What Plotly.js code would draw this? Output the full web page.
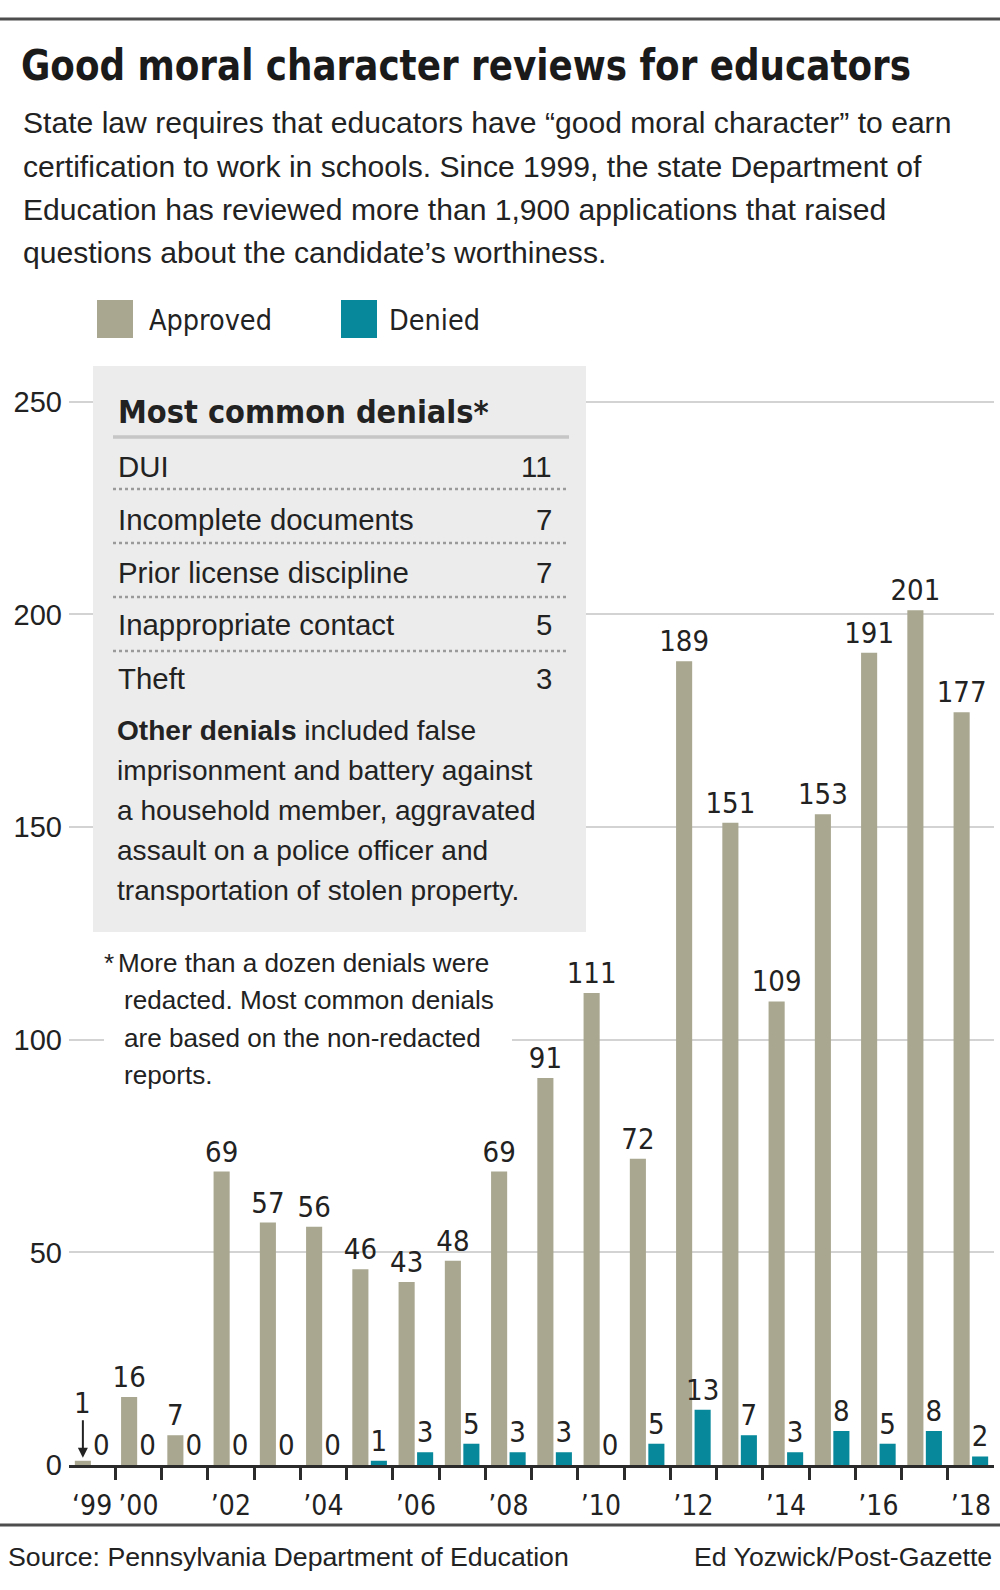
<!DOCTYPE html>
<html>
<head>
<meta charset="utf-8">
<script src="https://cdn.plot.ly/plotly-3.0.1.min.js"></script>
<style>
  html, body { margin: 0; padding: 0; background: #ffffff; }
  #chart { width: 1000px; height: 1590px; }
</style>
</head>
<body>
<div id="chart"></div>
<script>
// ---------------- DATA ----------------
const years    = [1999, 2000, 2001, 2002, 2003, 2004, 2005, 2006, 2007, 2008, 2009, 2010, 2011, 2012, 2013, 2014, 2015, 2016, 2017, 2018];
const approved = [1, 16, 7, 69, 57, 56, 46, 43, 48, 69, 91, 111, 72, 189, 151, 109, 153, 191, 201, 177];
const denied   = [0, 0, 0, 0, 0, 0, 1, 3, 5, 3, 3, 0, 5, 13, 7, 3, 8, 5, 8, 2];

const tickYears  = [1999, 2000, 2002, 2004, 2006, 2008, 2010, 2012, 2014, 2016, 2018];
const tickLabels = ['‘99', '’00', '’02', '’04', '’06', '’08', '’10', '’12', '’14', '’16', '’18'];
const yTicks     = [0, 50, 100, 150, 200, 250];

const denialReasons = ['DUI', 'Incomplete documents', 'Prior license discipline', 'Inappropriate contact', 'Theft'];
const denialCounts  = [11, 7, 7, 5, 3];

const titleText = 'Good moral character reviews for educators';
const subtitleLines = [
  'State law requires that educators have “good moral character” to earn',
  'certification to work in schools. Since 1999, the state Department of',
  'Education has reviewed more than 1,900 applications that raised',
  'questions about the candidate’s worthiness.'
];
const boxTitle = 'Most common denials*';
const otherLines = [
  '<b>Other denials</b> included false',
  'imprisonment and battery against',
  'a household member, aggravated',
  'assault on a police officer and',
  'transportation of stolen property.'
];
const footnoteLines = [
  'More than a dozen denials were',
  'redacted. Most common denials',
  'are based on the non-redacted',
  'reports.'
];
const sourceText = 'Source: Pennsylvania Department of Education';
const creditText = 'Ed Yozwick/Post-Gazette';

// ---------------- STYLE ----------------
const COL_APPROVED = '#a9a78f';
const COL_DENIED   = '#08899b';
const INK = '#222222';

const cv = document.createElement('canvas').getContext('2d');
function textW(t, fam, size, bold) { cv.font = (bold ? 'bold ' : '') + size + 'px ' + fam; return cv.measureText(t).width; }
function hasFont(name) {
  const t = 'mmmmmmmmmwwwwwlliiiWWW0123456789';
  for (const base of ['monospace', 'serif']) {
    if (Math.abs(textW(t, "'" + name + "', " + base, 72) - textW(t, base, 72)) > 0.5) return true;
  }
  return false;
}
const REG = "'Liberation Sans', Arial, Helvetica, sans-serif";
let NARROW = REG, hasNarrow = false;
if (hasFont('Liberation Sans Narrow')) { NARROW = "'Liberation Sans Narrow', 'Liberation Sans', sans-serif"; hasNarrow = true; }
else if (hasFont('DejaVu Sans Condensed')) { NARROW = "'DejaVu Sans Condensed', 'Liberation Sans', sans-serif"; hasNarrow = true; }
function fit(t, fam, bold, target) { return Math.round(1000 * target / textW(t.replace(/<[^>]+>/g, ''), fam, 100, bold)) / 10; }

// plot area in pixels
const W = 1000, H = 1590;
const PL = 69, PR = 994, PT = 380, PB = 1465;
const px2x = p => (p - PL) / (PR - PL);
const px2y = p => (PB - p) / (PB - PT);

const BARGAP = 0.2, BARGROUPGAP = 0.13;
const groupOffset = (1 - BARGAP) / 4;

// font sizes (fit to reference widths)
const TITLE_W    = 890;
const fsTitle    = Math.min(51, fit(titleText, NARROW, true, 955));
const fsSub      = fit(subtitleLines[0], REG, false, 930);
const fsLegend   = fit('Approved', NARROW, false, 123);
const fsBoxTitle = fit(boxTitle, NARROW, true, 371);
const fsRow      = fit(denialReasons[1], REG, false, 296);
const fsOther    = fit(otherLines[1], REG, false, 416);
const fsNote     = fit(footnoteLines[1], REG, false, 370);
const fsFoot     = fit(sourceText, REG, false, 560);
const fsData     = hasNarrow ? 29 : 26;
const fsXTick    = hasNarrow ? 28 : 25;

function label(text, xpx, basePx, size, fam, anchor, color) {
  return {
    text: text, xref: 'paper', yref: 'paper',
    x: px2x(xpx), y: px2y(basePx - 0.35 * size),
    xanchor: anchor || 'left', yanchor: 'middle',
    showarrow: false, borderpad: 0,
    font: { family: fam, size: size, color: color || INK }
  };
}
function rect(x0, y0, x1, y1, fill, layer) {
  return { type: 'rect', xref: 'paper', yref: 'paper', x0: px2x(x0), x1: px2x(x1), y0: px2y(y0), y1: px2y(y1),
           fillcolor: fill, line: { width: 0 }, layer: layer || 'above' };
}
function hline(x0, x1, y, color, width, dash) {
  return { type: 'line', xref: 'paper', yref: 'paper', x0: px2x(x0), x1: px2x(x1), y0: px2y(y), y1: px2y(y),
           line: { color: color, width: width, dash: dash || 'solid' }, layer: 'above' };
}

// ---------------- TRACES ----------------
const traces = [
  {
    type: 'bar', name: 'Approved', x: years, y: approved,
    marker: { color: COL_APPROVED, line: { width: 0 } },
    text: approved.map((v, i) => i === 0 ? '' : String(v)),
    textposition: 'outside', constraintext: 'none', cliponaxis: false,
    textfont: { family: NARROW, size: fsData, color: INK }
  },
  {
    type: 'bar', name: 'Denied', x: years, y: denied,
    marker: { color: COL_DENIED, line: { width: 0 } },
    text: denied.map(String),
    textposition: 'outside', constraintext: 'none', cliponaxis: false,
    textfont: { family: NARROW, size: fsData, color: INK }
  },
  { type: 'scatter', x: [], y: [], xaxis: 'x2', yaxis: 'y', showlegend: false, hoverinfo: 'skip' }
];

// ---------------- SHAPES ----------------
const shapes = [
  hline(0, W, 19, '#4d4d4d', 3),
  hline(0, W, 1525, '#4d4d4d', 3),
  rect(97, 300, 133, 338, COL_APPROVED),
  rect(341, 300, 377, 338, COL_DENIED),
  rect(93, 366, 586, 932, '#ececec'),
  hline(113, 569, 437, '#c6c6c6', 3.5),
  rect(104, 940, 512, 1095, '#ffffff')
];
const rowBase = [477, 530, 583, 635, 689];
const dotY = [489, 543, 597, 651];
dotY.forEach(y => shapes.push(hline(113, 568, y, '#9a9a9a', 2.5, 'dot')));

// ---------------- ANNOTATIONS ----------------
const annotations = [];
const subBase = [133, 177, 220, 263];
subtitleLines.forEach((t, i) => annotations.push(label(t, 22, subBase[i], fsSub, REG)));
annotations.push(label('Approved', 148, 330, fsLegend, NARROW));
annotations.push(label('Denied', 388, 330, fsLegend, NARROW));
annotations.push(label('<b>' + boxTitle + '</b>', 117, 423, fsBoxTitle, NARROW));
denialReasons.forEach((r, i) => {
  annotations.push(label(r, 117, rowBase[i], fsRow, REG));
  annotations.push(label(String(denialCounts[i]), 553, rowBase[i], fsRow, REG, 'right'));
});
const otherBase = [740, 780, 820, 860, 900];
otherLines.forEach((t, i) => annotations.push(label(t, 116, otherBase[i], fsOther, REG)));
const noteBase = [972, 1009.5, 1047, 1084.5];
annotations.push(label('*', 103, noteBase[0], fsNote, REG));
footnoteLines.forEach((t, i) => annotations.push(label(t, i === 0 ? 117 : 123, noteBase[i], fsNote, REG)));
annotations.push(label(sourceText, 7, 1566, fsFoot, REG));
annotations.push(label(creditText, 993, 1566, fsFoot, REG, 'right'));
// arrow label for the tiny 1999 approved bar
annotations.push({
  x: years[0] - groupOffset, y: approved[0], xref: 'x', yref: 'y',
  text: String(approved[0]), showarrow: true, ax: 0, ay: -58,
  arrowhead: 2, arrowsize: 1, arrowwidth: 2, arrowcolor: INK, standoff: 3,
  font: { family: NARROW, size: fsData, color: INK }, borderpad: 0
});

// ---------------- LAYOUT ----------------
const xRange = [years[0] - 0.5, years[years.length - 1] + 0.5];
const layout = {
  width: W, height: H,
  margin: { l: PL, r: W - PR, t: PT, b: H - PB, pad: 0 },
  paper_bgcolor: '#ffffff', plot_bgcolor: '#ffffff',
  showlegend: false,
  barmode: 'group', bargap: BARGAP, bargroupgap: BARGROUPGAP,
  title: {
    text: '<b>' + titleText + '</b>',
    xref: 'container', yref: 'container',
    x: 21 / W, xanchor: 'left',
    y: 1 - (80 - 0.7 * fsTitle) / H, yanchor: 'top',
    font: { family: NARROW, size: fsTitle, color: '#1a1a1a' }
  },
  xaxis: {
    type: 'linear', range: xRange, fixedrange: true,
    tickmode: 'array', tickvals: tickYears, ticktext: tickLabels,
    ticks: '', showgrid: false, zeroline: false,
    showline: true, linecolor: '#2b2b2b', linewidth: 2.5,
    tickfont: { family: NARROW, size: fsXTick, color: INK },
    ticklabelstandoff: 14
  },
  xaxis2: {
    type: 'linear', range: xRange, overlaying: 'x', anchor: 'y', side: 'bottom', fixedrange: true,
    tickmode: 'array', tickvals: years.slice(0, -1).map(y => y + 0.5),
    ticks: 'outside', ticklen: 14, tickwidth: 2.5, tickcolor: '#2b2b2b',
    showticklabels: false, showgrid: false, zeroline: false, showline: false
  },
  yaxis: {
    range: [0, (PB - PT) / 4.253], fixedrange: true,
    tickmode: 'array', tickvals: yTicks,
    ticks: '', showgrid: true, gridcolor: '#d3d3d3', gridwidth: 2,
    zeroline: false, showline: false,
    tickfont: { family: REG, size: 29, color: INK },
    ticklabelstandoff: 6
  },
  shapes: shapes,
  annotations: annotations
};

// compress the headline glyphs slightly to the reference's condensed width
function condenseTitle(gd) {
  const t = gd.querySelector('.gtitle');
  if (t) {
    t.setAttribute('textLength', TITLE_W);
    t.setAttribute('lengthAdjust', 'spacingAndGlyphs');
  }
}
Plotly.newPlot('chart', traces, layout, { displayModeBar: false, responsive: false }).then(gd => {
  condenseTitle(gd);
  gd.on('plotly_afterplot', () => condenseTitle(gd));
});
</script>
</body>
</html>
